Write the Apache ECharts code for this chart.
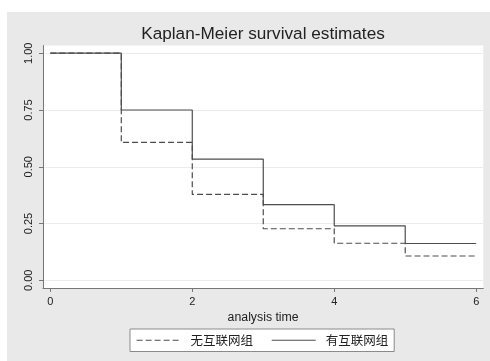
<!DOCTYPE html>
<html><head><meta charset="utf-8">
<script src="https://cdn.jsdelivr.net/npm/echarts@6/dist/echarts.min.js"></script>
<style>html,body{margin:0;padding:0;background:#fff}#c{width:490px;height:361px}</style>
</head><body><div id="c"></div>
<script>
const times = [0, 1, 2, 3, 4, 5, 6];
const noInternet = [1.0, 0.607, 0.378, 0.227, 0.163, 0.107, 0.107];
const withInternet = [1.0, 0.75, 0.534, 0.333, 0.240, 0.162, 0.162];
const xTicks = [0, 2, 4, 6];
const yTicks = [0, 0.25, 0.5, 0.75, 1];
const seriesNames = ['无互联网组', '有互联网组'];
const titleText = 'Kaplan-Meier survival estimates';
const xTitle = 'analysis time';

const chart = echarts.init(document.getElementById('c'), null, {renderer: 'canvas'});
const FONT = '"Liberation Sans", Arial, sans-serif';
const lineColor = '#4d4d4d';

chart.setOption({
  backgroundColor: '#ffffff',
  animation: false,
  graphic: [{
    type: 'rect', z: -100,
    shape: {x: 7, y: 12, width: 483, height: 349},
    style: {fill: '#e9e9e9'}
  }],
  title: {
    text: titleText,
    left: 263, top: 25.5, textAlign: 'center', padding: 0,
    textStyle: {fontFamily: FONT, fontSize: 17.2, fontWeight: 'normal', color: '#222'}
  },
  grid: {
    left: 43, right: 6.7, top: 45.5, bottom: 73,
    show: true, backgroundColor: '#ffffff', borderWidth: 0
  },
  xAxis: {
    type: 'value', min: -0.103, max: 6.1,
    name: xTitle, nameLocation: 'middle', nameGap: 23,
    nameTextStyle: {fontFamily: FONT, fontSize: 12.3, color: '#222'},
    axisLine: {onZero: false, lineStyle: {color: '#777', width: 1}},
    axisTick: {customValues: xTicks, length: 4, lineStyle: {color: '#777'}},
    axisLabel: {customValues: xTicks, margin: 8, fontFamily: FONT, fontSize: 11, color: '#222'},
    splitLine: {show: false}
  },
  yAxis: {
    type: 'value', min: -0.034, max: 1.034,
    axisLine: {show: true, onZero: false, lineStyle: {color: '#777', width: 1}},
    axisTick: {show: true, customValues: yTicks, length: 4, lineStyle: {color: '#777'}},
    axisLabel: {customValues: yTicks, rotate: 90, margin: 9, fontFamily: FONT, fontSize: 11, color: '#222',
      formatter: v => v.toFixed(2)},
    splitLine: {show: true, lineStyle: {color: '#ececec', width: 1}}
  },
  legend: {
    left: 130, top: 329,
    padding: [5, 6, 5, 6],
    backgroundColor: '#ffffff', borderColor: '#8a8a8a', borderWidth: 1, borderRadius: 0,
    itemWidth: 44, itemHeight: 12, itemGap: 18,
    itemStyle: {opacity: 0},
    lineStyle: {width: 1.2},
    textStyle: {fontFamily: '"Noto Sans CJK SC", sans-serif', fontSize: 12.5, color: '#222', padding: [0, 0, 0, 5]},
    data: seriesNames
  },
  series: [
    {
      name: seriesNames[0], type: 'line', step: 'end', symbol: 'none',
      data: times.map((t, i) => [t, noInternet[i]]),
      lineStyle: {color: lineColor, width: 1.2, type: [6, 3]},
      itemStyle: {color: lineColor}
    },
    {
      name: seriesNames[1], type: 'line', step: 'end', symbol: 'none',
      data: times.map((t, i) => [t, withInternet[i]]),
      lineStyle: {color: lineColor, width: 1.2, type: 'solid'},
      itemStyle: {color: lineColor}
    }
  ]
});
</script></body></html>
